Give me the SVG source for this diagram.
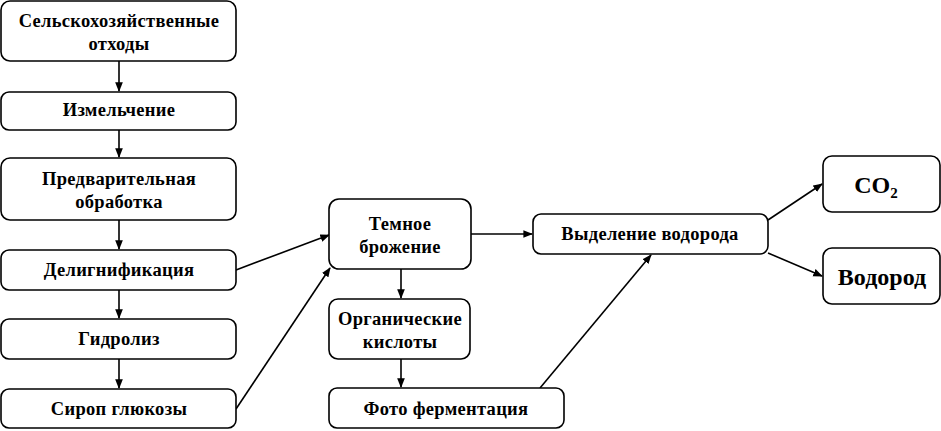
<svg xmlns="http://www.w3.org/2000/svg" width="941" height="431" viewBox="0 0 941 431">
<defs>
<style>
rect{fill:#fff;stroke:#000;stroke-width:1.6}
text{font-family:"Liberation Serif","Times New Roman",serif;font-weight:bold;font-size:18.5px;text-anchor:middle;fill:#000;letter-spacing:0.3px}
.big{font-size:24px;letter-spacing:0}
.c line{stroke:#000;stroke-width:1.6;marker-end:url(#a)}
</style>
<marker id="a" viewBox="0 0 10 10" refX="9" refY="5" markerWidth="6" markerHeight="6" orient="auto" markerUnits="strokeWidth">
<path d="M0,1 L10,5 L0,9 z" fill="#000"/>
</marker>
</defs>
<rect width="941" height="431" style="fill:#fff;stroke:none"/>
<g class="c" id="connectors">
<line x1="119" y1="61" x2="119" y2="91"/>
<line x1="119" y1="130" x2="119" y2="157"/>
<line x1="119" y1="220" x2="119" y2="249"/>
<line x1="119" y1="290" x2="119" y2="318"/>
<line x1="119" y1="359" x2="119" y2="388"/>
<line x1="236" y1="270" x2="329" y2="235"/>
<line x1="236" y1="409" x2="330" y2="268"/>
<line x1="401" y1="269" x2="401" y2="298"/>
<line x1="401" y1="359" x2="401" y2="387"/>
<line x1="471" y1="234" x2="532" y2="234"/>
<line x1="540" y1="388" x2="651" y2="255"/>
<line x1="768" y1="220" x2="822" y2="184"/>
<line x1="768" y1="253" x2="822" y2="276"/>
</g>
<g id="n1"><rect x="1" y="1" width="235" height="60" rx="9"/><text x="119" y="27">Сельскохозяйственные</text><text x="119" y="50">отходы</text></g>
<g id="n2"><rect x="1" y="92" width="235" height="38" rx="8"/><text x="119" y="116">Измельчение</text></g>
<g id="n3"><rect x="1" y="158" width="235" height="62" rx="9"/><text x="119" y="185">Предварительная</text><text x="119" y="208">обработка</text></g>
<g id="n4"><rect x="1" y="250" width="235" height="40" rx="8"/><text x="119" y="276">Делигнификация</text></g>
<g id="n5"><rect x="1" y="319" width="235" height="40" rx="8"/><text x="119" y="345">Гидролиз</text></g>
<g id="n6"><rect x="1" y="389" width="235" height="39" rx="8"/><text x="119" y="415">Сироп глюкозы</text></g>
<g id="n7"><rect x="329" y="199" width="142" height="70" rx="10"/><text x="400" y="230">Темное</text><text x="400" y="253">брожение</text></g>
<g id="n8"><rect x="329" y="299" width="141" height="60" rx="9"/><text x="400" y="325">Органические</text><text x="400" y="348">кислоты</text></g>
<g id="n9"><rect x="329" y="388" width="235" height="40" rx="8"/><text x="446" y="415">Фото ферментация</text></g>
<g id="n10"><rect x="533" y="214" width="235" height="40" rx="8"/><text x="650" y="240">Выделение водорода</text></g>
<g id="n11"><rect x="823" y="156" width="117" height="56" rx="9"/><text class="big" x="876" y="193">CO<tspan font-size="15" dy="5">2</tspan></text></g>
<g id="n12"><rect x="823" y="248" width="117" height="56" rx="9"/><text class="big" x="882" y="285">Водород</text></g>
</svg>
